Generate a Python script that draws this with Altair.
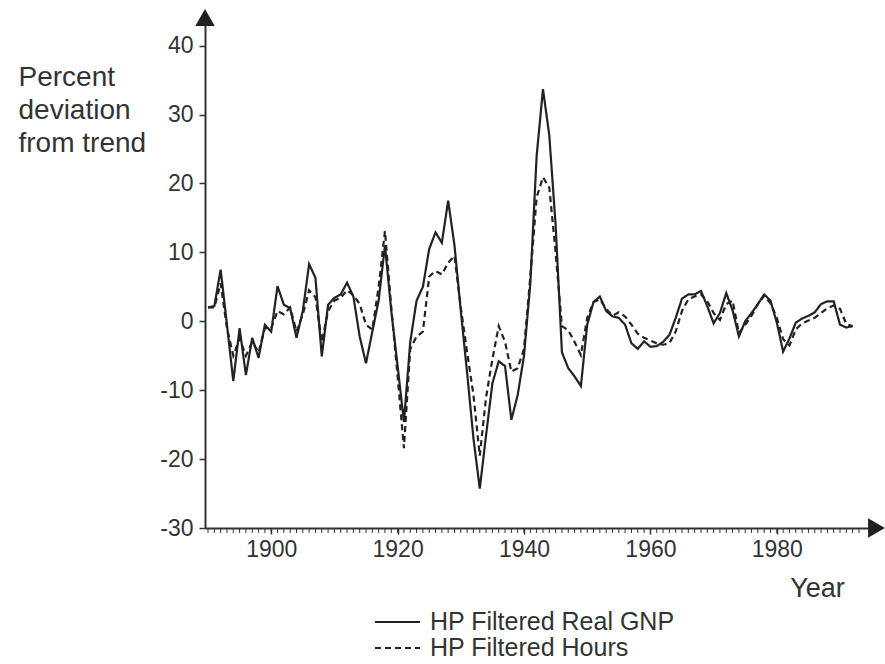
import altair as alt
import pandas as pd

# ---------------- data ----------------
years = list(range(1890, 1993))

gnp = [
    2.0, 2.2, 7.5, -0.5, -8.7, -1.0, -7.8, -2.4, -5.3, -0.5,
    -1.5, 5.1, 2.4, 1.9, -2.4, 1.5, 8.3, 6.3, -5.1, 2.4,
    3.4, 3.9, 5.6, 3.6, -2.2, -6.1, -1.5, 3.0, 11.0, 1.5,
    -6.5, -14.6, -3.0, 3.0, 5.0, 10.5, 12.9, 11.4, 17.5, 11.0,
    1.5, -7.5, -17.0, -24.3, -16.5, -9.0, -5.8, -6.5, -14.3, -10.7,
    -5.0, 5.5, 24.0, 33.7, 27.0, 14.0, -4.5, -6.8, -8.0, -9.4,
    -0.5, 2.8, 3.6, 1.5, 0.7, 0.5, -0.5, -3.2, -4.0, -2.9,
    -3.7, -3.6, -3.0, -2.0, 0.5, 3.3, 3.9, 3.9, 4.4, 2.2,
    -0.3, 1.2, 4.1, 1.6, -2.2, 0.0, 1.2, 2.5, 3.9, 3.0,
    -0.2, -4.4, -2.5, -0.2, 0.4, 0.8, 1.3, 2.5, 2.9, 2.9,
    -0.5, -0.9, -0.7,
]

hours = [
    2.0, 2.0, 5.5, -1.0, -5.0, -2.5, -5.0, -3.0, -4.5, -1.0,
    -1.0, 1.5, 1.0, 2.0, -1.5, 1.0, 4.5, 3.5, -3.0, 1.5,
    3.0, 3.4, 4.5, 3.8, 2.5, -0.5, -1.2, 5.0, 13.1, 2.0,
    -8.0, -18.4, -4.0, -2.2, -1.5, 6.5, 7.3, 6.8, 8.5, 9.5,
    2.0, -4.5, -10.7, -19.5, -11.0, -5.5, -0.7, -3.0, -7.3, -6.8,
    -4.0, 6.5, 18.0, 20.9, 19.4, 10.0, -0.7, -1.3, -3.0, -4.9,
    0.5, 2.8, 3.2, 1.8, 0.8, 1.3, 0.7, -0.5, -1.8, -2.4,
    -2.8, -3.2, -3.4, -3.2, -1.5, 1.5, 3.2, 3.6, 3.9, 2.9,
    1.2, 0.2, 2.5, 3.0, -1.7, -0.5, 0.8, 2.5, 3.7, 2.6,
    0.5, -2.6, -3.5, -1.2, -0.3, 0.1, 0.5, 1.2, 1.9, 2.3,
    1.8, -0.4, -0.7,
]

series_names = ["HP Filtered Real GNP", "HP Filtered Hours"]
x_tick_values = [1900, 1920, 1940, 1960, 1980]
y_tick_values = [-30, -20, -10, 0, 10, 20, 30, 40]
minor_tick_years = list(range(1890, 1994))
y_title = ["Percent", "deviation", "from trend"]
x_title = "Year"

# ---------------- styling ----------------
FONT = "Liberation Sans"
LINE = "#222222"
AXIS = "#333333"
TEXT = "#333333"

PLOT_W, PLOT_H = 667, 503
PAD = {"left": 205, "top": 25, "right": 885 - 205 - PLOT_W, "bottom": 664 - 25 - PLOT_H}

df = pd.DataFrame({
    "year": years + years,
    "value": gnp + hours,
    "series": [series_names[0]] * len(years) + [series_names[1]] * len(years),
})

x_scale = alt.Scale(domain=[1889.525, 1995.06], nice=False, zero=False)
y_scale = alt.Scale(domain=[-30, 43.0], nice=False, zero=False)

x_axis = alt.Axis(
    values=x_tick_values, labelExpr="'' + datum.value",
    labelFont=FONT, labelFontSize=23, labelColor=TEXT, labelPadding=4,
    labelFlush=False, labelOverlap=False,
    tickSize=6, tickColor=AXIS, tickWidth=1.5,
    domainColor=AXIS, domainWidth=2, grid=False,
    title=x_title, titleFont=FONT, titleFontSize=27, titleFontWeight="normal",
    titleColor=TEXT, titleX=612, titleY=60, titleAlign="center",
    titleBaseline="middle", titleAnchor="start")

y_axis = alt.Axis(
    values=y_tick_values, labelExpr="'' + datum.value",
    labelFont=FONT, labelFontSize=23, labelColor=TEXT, labelPadding=6,
    tickSize=6, tickColor=AXIS, tickWidth=1.5,
    domainColor=AXIS, domainWidth=2, grid=False,
    title=y_title, titleFont=FONT, titleFontSize=28, titleFontWeight="normal",
    titleColor=TEXT, titleAngle=0, titleAlign="left", titleBaseline="top",
    titleX=-187, titleY=38, titleLineHeight=33, titleAnchor="start")

lines = alt.Chart(df).mark_line(strokeWidth=2.2, color=LINE).encode(
    x=alt.X("year:Q", scale=x_scale, axis=x_axis),
    y=alt.Y("value:Q", scale=y_scale, axis=y_axis),
    strokeDash=alt.StrokeDash("series:N", scale=alt.Scale(domain=series_names, range=[[1, 0], [6, 4]]), legend=None),
    detail="series:N",
)

minor = alt.Chart(pd.DataFrame({"year": minor_tick_years})).mark_rule(color=AXIS, strokeWidth=1).encode(
    x=alt.X("year:Q", scale=x_scale, axis=x_axis),
    y=alt.value(PLOT_H),
    y2=alt.value(PLOT_H + 5),
)

one = pd.DataFrame({"k": [0]})
arrow_x = alt.Chart(one).mark_point(shape="triangle-right", filled=True, size=380, color=LINE, opacity=1).encode(
    x=alt.value(PLOT_W + 4.5), y=alt.value(PLOT_H))
arrow_y = alt.Chart(one).mark_point(shape="triangle-up", filled=True, size=380, color=LINE, opacity=1).encode(
    x=alt.value(0), y=alt.value(-7.5))

legend_rows_y = [597, 623]
legend_layers = []
for k, name in enumerate(series_names):
    d = pd.DataFrame({"label": [name]})
    rule_kwargs = dict(color=LINE, strokeWidth=2)
    if k == 1:
        rule_kwargs["strokeDash"] = [6, 4]
    legend_layers.append(alt.Chart(d).mark_rule(**rule_kwargs).encode(
        x=alt.value(170), x2=alt.value(215), y=alt.value(legend_rows_y[k])))
    legend_layers.append(alt.Chart(d).mark_text(align="left", baseline="middle", font=FONT,
                                                fontSize=25, color=TEXT).encode(
        x=alt.value(225), y=alt.value(legend_rows_y[k]), text="label:N"))

chart = alt.layer(lines, minor, arrow_x, arrow_y, *legend_layers).properties(
    width=PLOT_W, height=PLOT_H,
    autosize=alt.AutoSizeParams(type="none"),
    padding=PAD,
    background="white",
).configure_view(stroke=None)

chart.save("out.html", embed_options={"renderer": "svg", "actions": False})
